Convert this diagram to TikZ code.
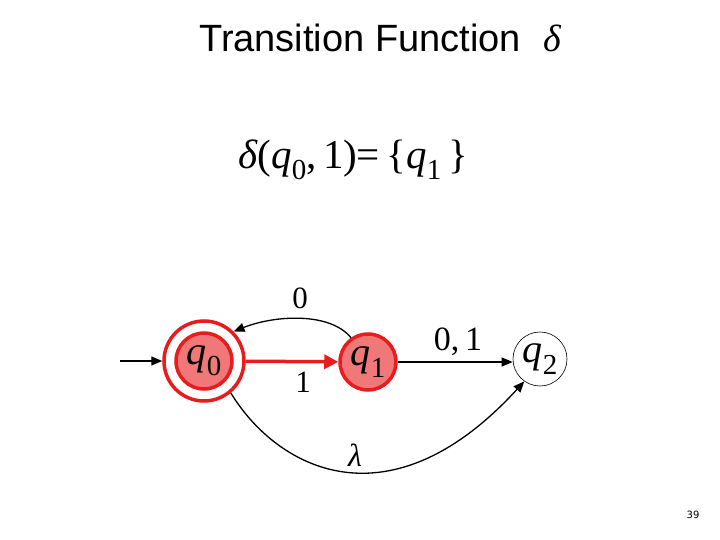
\documentclass[tikz,border=0pt]{standalone}
\usepackage{fontspec}
\setmainfont{Liberation Serif}
\newfontfamily\titlefont{Liberation Sans}
\newfontfamily\pagefont{DejaVu Sans}
\usetikzlibrary{arrows.meta}
\definecolor{stpink}{RGB}{240,120,120}
\definecolor{stred}{RGB}{232,28,28}
\newcommand{\qsub}[3]{\textit{#1}\raisebox{-0.28em}{\fontsize{#3}{#3}\selectfont #2}}
\tikzset{
  acc/.style={circle, draw=stred, line width=3.5pt, fill=white, minimum size=80pt, inner sep=0pt},
  redstate/.style={circle, draw=stred, line width=3.5pt, fill=stpink, minimum size=56pt, inner sep=0pt, font=\fontsize{40}{40}\selectfont},
  plainstate/.style={circle, draw=black, line width=0.6pt, minimum size=54pt, inner sep=0pt, font=\fontsize{40}{40}\selectfont},
  tr/.style={line width=1.3pt, -{Triangle[length=11pt,width=9pt]}},
  redtr/.style={draw=stred, line width=3.5pt, -{Triangle[length=14pt,width=14pt]}, stred},
  lab/.style={font=\fontsize{31}{31}\selectfont, inner sep=0pt}
}
\begin{document}
\begin{tikzpicture}[x=1pt,y=-1pt]
\useasboundingbox (0,0) rectangle (720,540);
% title
\node[font=\titlefont\fontsize{38}{38}\selectfont, anchor=west, inner sep=0pt] (title) at (199,38) {Transition Function};
\node[font=\fontsize{38}{38}\selectfont\itshape, inner sep=0pt] (tdelta) at (552,38) {δ};
% formula
\node[font=\fontsize{41}{41}\selectfont, inner sep=0pt] (formula) at (353,160) {\textit{δ}(\qsub{q}{0}{29},\,1)\kern-1pt=\,\{\qsub{q}{1}{29}\,\}};
% states
\node[acc] (q0o) at (204,361) {};
\node[redstate] (q0) at (204,361) {\qsub{q}{0}{29}};
\node[redstate] (q1) at (368,362) {\qsub{q}{1}{29}};
\node[plainstate] (q2) at (540,359) {\qsub{q}{2}{29}};
\coordinate (start) at (120,361);
% edges
\draw[tr] (start) -- (q0o);
\draw[redtr] (q0o) -- (q1);
\draw[tr] (q1) -- (q2.west |- q1);
\draw[tr] (q1.125) .. controls (330,312) and (275,315) .. (q0o.45);
\draw[tr] (q0o.-50) .. controls (278,470) and (390,528) .. (q2.-125);
% labels
\node[lab] (l0) at (300,298) {0};
\node[lab] (l1) at (303,382) {1};
\node[lab, font=\fontsize{34}{34}\selectfont] (l01) at (458,342) {0,\,1};
\node[lab, font=\fontsize{32}{32}\selectfont\itshape] (llam) at (355,455) {λ};
\node[font=\pagefont\fontsize{10}{10}\selectfont, inner sep=0pt] (page) at (693,515) {39};
\end{tikzpicture}
\end{document}
